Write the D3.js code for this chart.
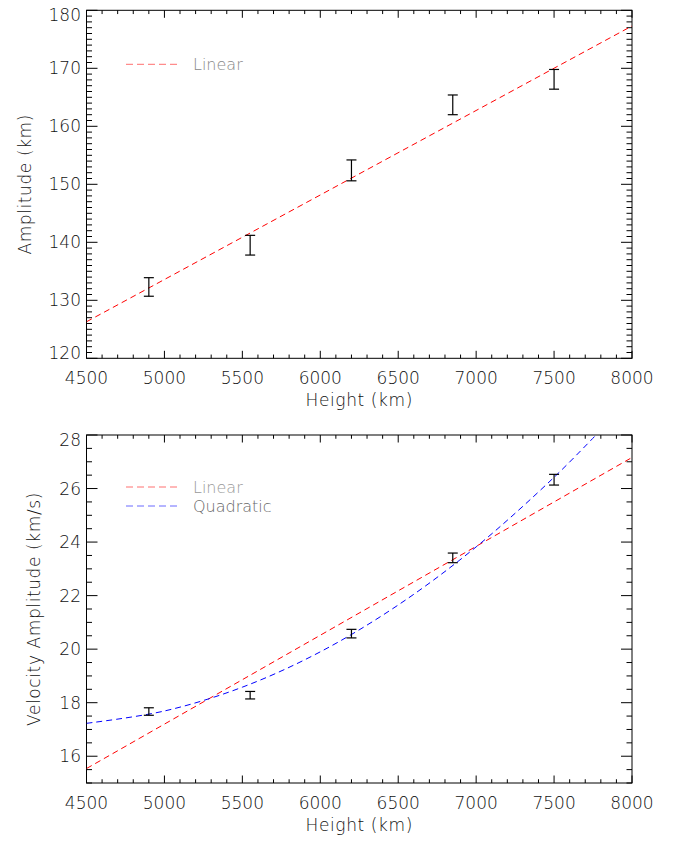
<!DOCTYPE html>
<html>
<head>
<meta charset="utf-8">
<script src="https://cdn.jsdelivr.net/npm/d3@7"></script>
<style>
  body { margin: 0; background: #fff; }
  text { font-family: "DejaVu Sans", sans-serif; font-weight: 200; font-size: 17px; fill: #111; }
  .legend-text { font-size: 16px; }
</style>
</head>
<body>
<div id="chart"></div>
<script>
// Data
const heights = [4900, 5550, 6200, 6850, 7500];
const amplitude = [132.3, 139.5, 152.4, 163.7, 168.1];
const amplitudeErr = [1.6, 1.7, 1.8, 1.7, 1.7];
const velAmplitude = [17.67, 18.28, 20.58, 23.41, 26.33];
const velAmplitudeErr = [0.14, 0.14, 0.16, 0.18, 0.2];

// Fit curves (end points / samples)
const linearHeights = [4500, 8000];
const ampLinear = [126.3, 177.3];
const velLinear = [15.54, 27.16];
const quadHeights = [4500, 5000, 5500, 6000, 6500, 7000, 7500, 7769];
const velQuadratic = [17.23, 17.69, 18.58, 19.9, 21.65, 23.82, 26.42, 28.0];

// Axis ticks
const xTicks = [4500, 5000, 5500, 6000, 6500, 7000, 7500, 8000];
const ampTicks = [120, 130, 140, 150, 160, 170, 180];
const velTicks = [16, 18, 20, 22, 24, 26, 28];

const width = 684, height = 842;
const left = 86.5, right = 632;

const svg = d3.select("#chart")
    .append("svg")
    .attr("width", width)
    .attr("height", height);

const x = d3.scaleLinear().domain([4500, 8000]).range([left, right]);

function drawPanel(opts) {
    const { top, bottom, yDomain, yTicks, yMinorStep, yTitle, yTitleX, legend, id } = opts;
    const y = d3.scaleLinear().domain(yDomain).range([bottom, top]);
    const g = svg.append("g");

    g.append("clipPath").attr("id", id)
        .append("rect")
        .attr("x", left).attr("y", top)
        .attr("width", right - left).attr("height", bottom - top);

    // frame
    g.append("rect")
        .attr("x", left).attr("y", top)
        .attr("width", right - left).attr("height", bottom - top)
        .attr("fill", "none").attr("stroke", "#000").attr("stroke-width", 1);

    // x ticks (bottom and top)
    const xMinor = d3.range(4500, 8001, 100);
    const xLen = 7.5;
    xMinor.forEach(v => {
        const len = v % 500 === 0 ? xLen : xLen / 2;
        g.append("line").attr("x1", x(v)).attr("x2", x(v))
            .attr("y1", bottom).attr("y2", bottom - len).attr("stroke", "#000");
        g.append("line").attr("x1", x(v)).attr("x2", x(v))
            .attr("y1", top).attr("y2", top + len).attr("stroke", "#000");
    });

    // y ticks (left and right)
    const yLen = 11;
    const yMinor = d3.range(yDomain[0], yDomain[1] + 1e-6, yMinorStep);
    yMinor.forEach(v => {
        const major = yTicks.some(t => Math.abs(t - v) < 1e-6);
        const len = major ? yLen : yLen / 2;
        g.append("line").attr("x1", left).attr("x2", left + len)
            .attr("y1", y(v)).attr("y2", y(v)).attr("stroke", "#000");
        g.append("line").attr("x1", right).attr("x2", right - len)
            .attr("y1", y(v)).attr("y2", y(v)).attr("stroke", "#000");
    });

    // tick labels
    g.selectAll(".xlab").data(xTicks).enter()
        .append("text")
        .attr("x", d => x(d))
        .attr("y", bottom + 26)
        .attr("text-anchor", "middle")
        .text(d => d);

    g.selectAll(".ylab").data(yTicks).enter()
        .append("text")
        .attr("x", left - 5.5)
        .attr("y", d => {
            let yy = y(d) + 6;
            if (d === yDomain[1]) yy += 5;
            if (d === yDomain[0]) yy -= 5;
            return yy;
        })
        .attr("text-anchor", "end")
        .text(d => d);

    // axis titles
    g.append("text")
        .attr("x", (left + right) / 2)
        .attr("y", bottom + 48)
        .attr("text-anchor", "middle")
        .attr("letter-spacing", "0.6px")
        .text("Height (km)");

    g.append("text")
        .attr("transform", `translate(${yTitleX},${(top + bottom) / 2}) rotate(-90)`)
        .attr("text-anchor", "middle")
        .attr("letter-spacing", "0.6px")
        .text(yTitle);

    // fits
    const plot = g.append("g").attr("clip-path", `url(#${id})`);
    opts.fits.forEach(f => {
        const pts = f.xs.map((h, i) => [h, f.ys[i]]);
        plot.append("path")
            .datum(pts)
            .attr("fill", "none")
            .attr("stroke", f.color)
            .attr("stroke-width", 1)
            .attr("stroke-dasharray", "6,4")
            .attr("d", d3.line().x(d => x(d[0])).y(d => y(d[1])).curve(d3.curveCatmullRom));
    });

    // error bars
    const eb = g.append("g").attr("stroke", "#000").attr("stroke-width", 1.2);
    heights.forEach((h, i) => {
        const v = opts.values[i], e = opts.errors[i];
        const cx = x(h);
        eb.append("line").attr("x1", cx).attr("x2", cx).attr("y1", y(v - e)).attr("y2", y(v + e));
        eb.append("line").attr("x1", cx - 5).attr("x2", cx + 5).attr("y1", y(v - e)).attr("y2", y(v - e));
        eb.append("line").attr("x1", cx - 5).attr("x2", cx + 5).attr("y1", y(v + e)).attr("y2", y(v + e));
    });

    // legend
    const ly0 = top + (legend.length > 1 ? 52 : 54), step = 19;
    legend.forEach((l, i) => {
        const ly = ly0 + i * step;
        g.append("line")
            .attr("x1", 126).attr("x2", 179)
            .attr("y1", ly).attr("y2", ly)
            .attr("stroke", l.color)
            .attr("stroke-dasharray", "7,4");
        g.append("text")
            .attr("class", "legend-text")
            .attr("x", 193)
            .attr("y", ly + 5.5)
            .style("fill", l.textColor)
            .text(l.label);
    });
}

drawPanel({
    id: "clipTop",
    top: 10.3, bottom: 358.3,
    yDomain: [120, 180], yTicks: ampTicks, yMinorStep: 1,
    yTitle: "Amplitude (km)", yTitleX: 31,
    values: amplitude, errors: amplitudeErr,
    fits: [{ xs: linearHeights, ys: ampLinear, color: "#f00" }],
    legend: [{ label: "Linear", color: "#ff7070", textColor: "#888" }]
});

drawPanel({
    id: "clipBottom",
    top: 435, bottom: 783,
    yDomain: [15, 28], yTicks: velTicks, yMinorStep: 0.5,
    yTitle: "Velocity Amplitude (km/s)", yTitleX: 40,
    values: velAmplitude, errors: velAmplitudeErr,
    fits: [
        { xs: linearHeights, ys: velLinear, color: "#f00" },
        { xs: quadHeights, ys: velQuadratic, color: "#00f" }
    ],
    legend: [
        { label: "Linear", color: "#ff7070", textColor: "#999" },
        { label: "Quadratic", color: "#6a6aff", textColor: "#666" }
    ]
});
</script>
</body>
</html>
